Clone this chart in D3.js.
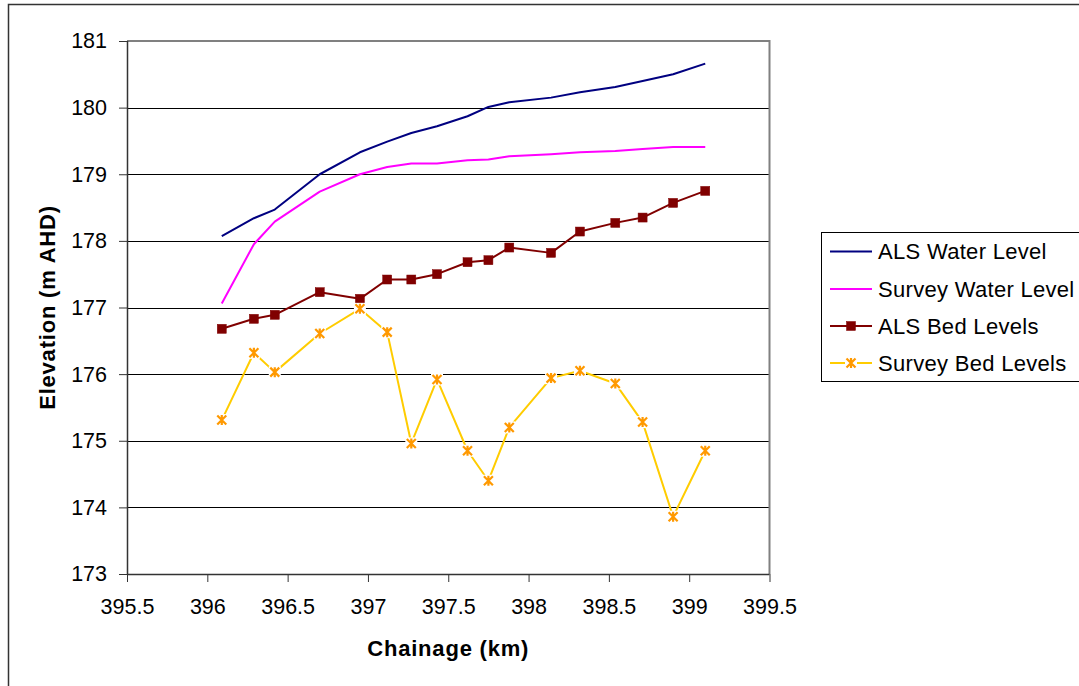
<!DOCTYPE html>
<html>
<head>
<meta charset="utf-8">
<script src="https://cdn.jsdelivr.net/npm/d3@7"></script>
<style>
  html, body { margin: 0; padding: 0; background: #fff; }
  svg { display: block; font-family: "Liberation Sans", Arial, sans-serif; }
</style>
</head>
<body>
<svg id="chart" width="1079" height="686"></svg>
<script>
// ---- Data ----
const chainage = [396.09, 396.29, 396.42, 396.70, 396.95, 397.12, 397.27, 397.43, 397.62, 397.75, 397.88, 398.14, 398.32, 398.54, 398.71, 398.90, 399.10];
const alsWater = [178.07, 178.34, 178.47, 179.00, 179.33, 179.49, 179.62, 179.72, 179.87, 180.01, 180.08, 180.15, 180.23, 180.31, 180.40, 180.50, 180.66];
const surveyWater = [177.06, 177.95, 178.29, 178.74, 179.00, 179.11, 179.16, 179.16, 179.21, 179.22, 179.27, 179.30, 179.33, 179.35, 179.38, 179.41, 179.41];
const alsBed = [176.68, 176.83, 176.89, 177.23, 177.13, 177.42, 177.42, 177.50, 177.68, 177.71, 177.90, 177.82, 178.14, 178.27, 178.35, 178.57, 178.75];
const surveyBed = [175.31, 176.32, 176.03, 176.61, 176.98, 176.63, 174.96, 175.92, 174.85, 174.40, 175.20, 175.94, 176.05, 175.86, 175.28, 173.86, 174.85];
const xTicks = [395.5, 396, 396.5, 397, 397.5, 398, 398.5, 399, 399.5];
const yTicks = [173, 174, 175, 176, 177, 178, 179, 180, 181];
const seriesNames = ["ALS Water Level", "Survey Water Level", "ALS Bed Levels", "Survey Bed Levels"];

const series = [
  { name: seriesNames[0], values: alsWater, color: "#000080", marker: null },
  { name: seriesNames[1], values: surveyWater, color: "#FF00FF", marker: null },
  { name: seriesNames[2], values: alsBed, color: "#800000", marker: "square", markerColor: "#800000" },
  { name: seriesNames[3], values: surveyBed, color: "#FFCC00", marker: "star", markerColor: "#FF9900" }
];

const svg = d3.select("#chart");
const L = 127, R = 769.5, T = 41, B = 574;

const x = d3.scaleLinear().domain([395.5, 399.5]).range([L, R]);
const y = d3.scaleLinear().domain([173, 181]).range([B, T]);

// outer border
svg.append("rect").attr("x", 8.5).attr("y", 4.5).attr("width", 1100).attr("height", 720)
  .attr("fill", "none").attr("stroke", "#333").attr("stroke-width", 1.5);

// gridlines
svg.append("g").selectAll("line").data(yTicks.filter(d => d !== 173)).join("line")
  .attr("x1", L).attr("x2", R)
  .attr("y1", d => Math.round(y(d)) + 0.5).attr("y2", d => Math.round(y(d)) + 0.5)
  .attr("stroke", "#000").attr("stroke-width", 1);

// plot border top & right (gray)
svg.append("line").attr("x1", L).attr("x2", R).attr("y1", T).attr("y2", T)
  .attr("stroke", "#808080").attr("stroke-width", 2);
svg.append("line").attr("x1", R).attr("x2", R).attr("y1", T - 1).attr("y2", B)
  .attr("stroke", "#808080").attr("stroke-width", 2);

// axes
const yAxis = d3.axisLeft(y).tickValues(yTicks).tickFormat(d3.format("d")).tickSize(8).tickPadding(12);
const gy = svg.append("g").attr("transform", `translate(${L},0)`).call(yAxis);
const xAxis = d3.axisBottom(x).tickValues(xTicks).tickFormat(d => String(d)).tickSize(8).tickPadding(17);
const gx = svg.append("g").attr("transform", `translate(0,${B})`).call(xAxis);
[gx, gy].forEach(g => {
  g.select(".domain").attr("stroke", "#333").attr("stroke-width", 1.5);
  g.selectAll(".tick line").attr("stroke", "#333").attr("stroke-width", 1);
  g.selectAll("text").attr("font-size", 21.5).attr("fill", "#000")
    .attr("font-family", "'Liberation Sans', Arial, sans-serif");
});
gx.select(".domain").attr("d", `M${L},0.5H${R}`);
gy.select(".domain").attr("d", `M0.5,${T}V${B}`);

// axis titles
svg.append("text").attr("x", (L + R) / 2).attr("y", 656).attr("text-anchor", "middle")
  .attr("font-size", 22).attr("font-weight", "bold").attr("letter-spacing", 0.8)
  .text("Chainage (km)");
svg.append("text").attr("transform", `translate(55,${(T + B) / 2}) rotate(-90)`)
  .attr("text-anchor", "middle").attr("font-size", 22).attr("font-weight", "bold").attr("letter-spacing", 0.8)
  .text("Elevation (m AHD)");

// lines
const line = d3.line().x((d, i) => x(chainage[i])).y(d => y(d));
const gSeries = svg.append("g");
series.forEach(s => {
  gSeries.append("path").datum(s.values).attr("d", line)
    .attr("fill", "none").attr("stroke", s.color).attr("stroke-width", 2)
    .attr("stroke-linejoin", "round");
});

function drawMarker(g, type, cx, cy, color) {
  if (type === "square") {
    g.append("rect").attr("x", cx - 4.5).attr("y", cy - 4.5).attr("width", 9).attr("height", 9)
      .attr("fill", color).attr("stroke", color).attr("stroke-width", 0.5);
  } else if (type === "star") {
    g.append("rect").attr("x", cx - 6).attr("y", cy - 6).attr("width", 12).attr("height", 12).attr("fill", "#fff");
    const r = 4.5;
    g.append("path")
      .attr("d", `M${cx - r},${cy - r}L${cx + r},${cy + r}M${cx - r},${cy + r}L${cx + r},${cy - r}M${cx},${cy - r - 0.5}L${cx},${cy + r + 0.5}`)
      .attr("stroke", color).attr("stroke-width", 2.2).attr("fill", "none");
  }
}

series.forEach(s => {
  if (!s.marker) return;
  const g = svg.append("g");
  s.values.forEach((v, i) => drawMarker(g, s.marker, x(chainage[i]), y(v), s.markerColor));
});

// legend
const lg = svg.append("g");
lg.append("rect").attr("x", 821.5).attr("y", 232.5).attr("width", 300).attr("height", 149)
  .attr("fill", "#fff").attr("stroke", "#000").attr("stroke-width", 1);
const legY = [251.5, 289, 326, 363];
series.forEach((s, i) => {
  const cy = legY[i];
  lg.append("line").attr("x1", 830).attr("x2", 872).attr("y1", cy).attr("y2", cy)
    .attr("stroke", s.color).attr("stroke-width", 2);
  if (s.marker) drawMarker(lg, s.marker, 851, cy, s.markerColor);
  lg.append("text").attr("x", 878).attr("y", cy).attr("dy", "0.36em")
    .attr("font-size", 22).attr("letter-spacing", 0.3).attr("fill", "#000").text(s.name);
});
</script>
</body>
</html>
